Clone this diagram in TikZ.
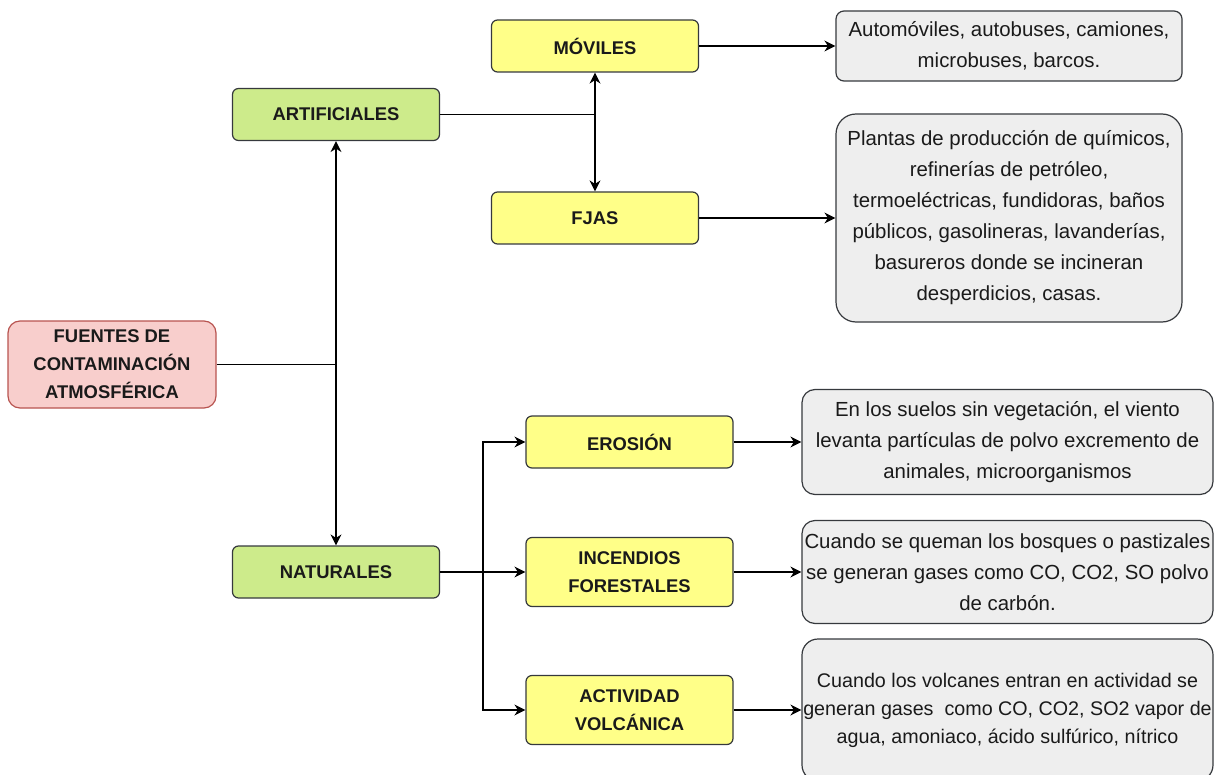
\documentclass[tikz,border=0pt]{standalone}
\usepackage{fontspec}
\setmainfont{Liberation Sans}
\usepackage{tikz}
\usetikzlibrary{arrows.meta,positioning}

\definecolor{amarillo}{HTML}{FFFF88}
\definecolor{verde}{HTML}{CDEB8B}
\definecolor{rosa}{HTML}{F8CECC}
\definecolor{rojo}{HTML}{B85450}
\definecolor{gris}{HTML}{EEEEEE}
\definecolor{borde}{HTML}{36393D}
\definecolor{texto}{HTML}{1A1A1A}

\begin{document}
\begin{tikzpicture}[x=0.5pt,y=-0.5pt,>={Stealth[length=5.5pt,width=5.5pt]},line width=0.8pt,
    caja/.style={draw=borde,line width=0.6pt,align=center,inner sep=0pt,text=texto,minimum width=103.5pt,minimum height=26pt,rounded corners=3pt,font=\fontsize{9.2}{14}\selectfont\bfseries},
    tipo/.style={caja,fill=verde},
    sub/.style={caja,fill=amarillo},
    raiz/.style={caja,fill=rosa,draw=rojo,minimum width=104pt,minimum height=43.5pt,rounded corners=6pt},
    desc/.style={draw=borde,line width=0.6pt,fill=gris,align=center,inner sep=0pt,text=texto,minimum width=205.5pt,font=\fontsize{10.2}{15.5}\selectfont}]
                \useasboundingbox (0,0) rectangle (1215,775);
                % cajas principales
                \node[raiz] (fuentes) at (112,364.5) {FUENTES DE\\CONTAMINACIÓN\\ATMOSFÉRICA};
                \node[tipo] (artif) at (336,114.5) {ARTIFICIALES};
                \node[tipo] (natur) at (336,572) {NATURALES};
                \node[sub] (moviles) at (595,46) {MÓVILES};
                \node[sub] (fjas) at (595,218) {FJAS};
                \node[sub] (erosion) at (629.5,442) {EROSIÓN};
                \node[sub,minimum height=34.5pt] (incendios) at (629.5,572) {INCENDIOS\\FORESTALES};
                \node[sub,minimum height=34.5pt] (volcanica) at (629.5,710) {ACTIVIDAD\\VOLCÁNICA};
                % descripciones
                \node[desc,minimum width=173pt,minimum height=35pt,rounded corners=4pt] (autos) at (1009,46) {Automóviles, autobuses, camiones,\\microbuses, barcos.};
                \node[desc,minimum width=173pt,minimum height=104pt,rounded corners=10pt] (plantas) at (1009,218) {Plantas de producción de químicos,\\refinerías de petróleo,\\termoeléctricas, fundidoras, baños\\públicos, gasolineras, lavanderías,\\basureros donde se incineran\\desperdicios, casas.};
                \node[desc,minimum height=52.5pt,rounded corners=6.5pt] (suelos) at (1007.5,442) {En los suelos sin vegetación, el viento\\levanta partículas de polvo excremento de\\animales, microorganismos};
                \node[desc,minimum height=51.5pt,rounded corners=6.5pt] (quema) at (1007.5,572) {Cuando se queman los bosques o pastizales\\se generan gases como CO, CO2, SO polvo\\de carbón.};
                \node[desc,minimum height=71pt,rounded corners=8pt,font=\fontsize{9.85}{14}\selectfont] (volcanes) at (1007.5,710) {Cuando los volcanes entran en actividad se\\generan gases\ \ como CO, CO2, SO2 vapor de\\agua, amoniaco, ácido sulfúrico, nítrico};
                % conectores
                \coordinate (j1) at (fuentes.east -| artif.south);
                \coordinate (j2) at (artif.east -| moviles.south);
                \coordinate (j3) at (483,572);
                \draw (fuentes.east) -- (j1);
                \draw[->] (j1) -- (artif.south);
                \draw[->] (j1) -- (natur.north);
                \draw (artif.east) -- (j2);
                \draw[->] (j2) -- (moviles.south);
                \draw[->] (j2) -- (fjas.north);
                \draw[->] (moviles) -- (autos);
                \draw[->] (fjas) -- (plantas);
                \draw[->] (natur) -- (incendios);
                \draw[->] (j3) |- (erosion);
                \draw[->] (j3) |- (volcanica);
                \draw[->] (erosion) -- (suelos);
                \draw[->] (incendios) -- (quema);
                \draw[->] (volcanica) -- (volcanes);
            \end{tikzpicture}
\end{document}
